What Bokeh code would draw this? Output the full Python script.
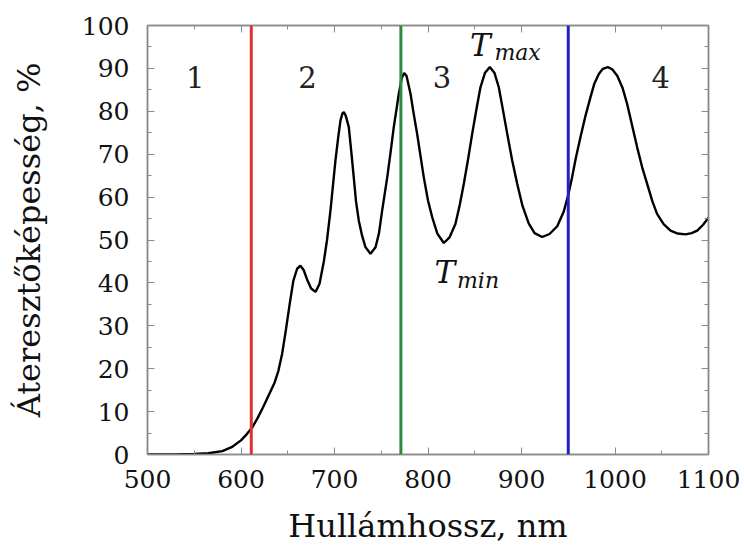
from bokeh.plotting import figure
from bokeh.models import Range1d, Span, LinearAxis, SingleIntervalTicker
from bokeh.core.properties import value
from bokeh.embed import file_html
from bokeh.resources import INLINE

# Transmission spectrum
wavelength = [500, 530, 550, 565, 580, 590, 600, 606, 612, 618, 624, 630, 636, 640, 644,
              648, 652, 656, 660, 663.6, 667, 671, 675, 679.7, 684, 688.6, 692, 695.7, 701,
              704, 706.4, 708.5, 710, 712, 715.3, 718, 720.6, 723, 726, 729.5, 733.2, 738.5,
              743.9, 747.5, 751, 756.4, 760, 763.4, 768.8, 772, 774.5, 777, 781.3, 784.5,
              788.4, 795.5, 800, 804.5, 810, 816.9, 823, 829.4, 834, 838.3, 843, 847.3, 852,
              856.1, 861, 866.1, 871, 875.7, 880, 884.7, 890, 895.4, 901, 907.8, 914, 922.1,
              930, 938.2, 945, 950, 954, 958, 963.1, 968.5, 973.8, 978, 982.7, 987, 992.3,
              997, 1002.4, 1008, 1013, 1018, 1023.7, 1029, 1034.4, 1040, 1045, 1052, 1059.4,
              1067, 1075.4, 1082, 1087.9, 1094, 1100]
transmission = [0, 0, 0.1, 0.3, 0.8, 1.7, 3.3, 4.7, 6.3, 8.6, 11.2, 14, 16.8, 19.5, 23.5,
                29, 35, 40.5, 43.3, 44, 43, 40.6, 38.7, 37.9, 39.8, 45, 50, 56.9, 68.5,
                74, 77.9, 79.5, 79.8, 79, 76.3, 70.5, 64.6, 59, 54.5, 51, 48.3, 46.8,
                48.3, 51.5, 56.9, 64.6, 70.5, 76.3, 84.1, 87.8, 88.9, 88.3, 84.1, 79.7,
                74.7, 64.6, 59.2, 55.3, 51.5, 49.3, 50.6, 53.8, 58.2, 63.1, 69, 74.8, 80.7,
                85.6, 89, 90.3, 89, 85.6, 80.5, 74.8, 68.6, 63.1, 58, 53.8, 51.6, 50.7,
                51.4, 53.2, 56.5, 60.5, 64.5, 69, 74, 79, 83.3, 86.5, 88.7, 89.9, 90.3,
                89.8, 88.3, 85.5, 81.7, 77, 71.6, 67, 63.1, 59, 56.1, 53.7, 52.2,
                51.5, 51.3, 51.6, 52.2, 53.5, 55.2]

# Region boundaries (nm) and colours
boundaries = [611, 771, 950]
boundary_colors = ["#e2302c", "#2f8a45", "#2222c4"]

# Region numbers
region_labels = ["1", "2", "3", "4"]
region_x = [551, 671, 815, 1049]
region_y = [88, 88, 88, 88]

# T_max / T_min annotations
t_main = ["T", "T"]
t_sub = ["max", "min"]
t_x = [845, 807]
t_y = [95.4, 42.6]
t_sub_x = [871, 831]
t_sub_y = [93.6, 40.6]

FONT = "DejaVu Serif"
GRAY = "#8a8a8a"

p = figure(width=744, height=548, output_backend="svg", toolbar_location=None,
           x_range=Range1d(500, 1100), y_range=Range1d(0, 100),
           min_border_left=147, min_border_right=36, min_border_top=25, min_border_bottom=94)
p.grid.visible = False
p.outline_line_color = GRAY
p.outline_line_width = 1.5
p.background_fill_color = "white"
p.border_fill_color = "white"

p.xaxis.ticker = SingleIntervalTicker(interval=100, num_minor_ticks=2)
p.yaxis.ticker = SingleIntervalTicker(interval=10, num_minor_ticks=2)

for ax in [p.xaxis[0], p.yaxis[0]]:
    ax.axis_line_color = GRAY
    ax.axis_line_width = 1.5
    ax.major_tick_in = 7
    ax.major_tick_out = 0
    ax.minor_tick_in = 4
    ax.minor_tick_out = 0
    ax.major_tick_line_color = GRAY
    ax.minor_tick_line_color = GRAY
    ax.major_label_text_font = FONT
    ax.major_label_text_font_size = "25px"
    ax.major_label_text_color = "#111111"
    ax.axis_label_text_font = FONT
    ax.axis_label_text_font_size = "32px"
    ax.axis_label_text_font_style = "normal"
    ax.axis_label_text_color = "#111111"

p.xaxis.axis_label = "Hullámhossz, nm"
p.yaxis.axis_label = "Áteresztőképesség, %"
p.xaxis.major_label_standoff = 15
p.yaxis.major_label_standoff = 18
p.xaxis.axis_label_standoff = 16
p.yaxis.axis_label_standoff = 31

# mirrored ticks on top and right
top = LinearAxis(ticker=SingleIntervalTicker(interval=100, num_minor_ticks=2))
right = LinearAxis(ticker=SingleIntervalTicker(interval=10, num_minor_ticks=2))
for ax in [top, right]:
    ax.axis_line_color = GRAY
    ax.axis_line_width = 1.5
    ax.major_tick_in = 7
    ax.major_tick_out = 0
    ax.minor_tick_in = 4
    ax.minor_tick_out = 0
    ax.major_tick_line_color = GRAY
    ax.minor_tick_line_color = GRAY
    ax.major_label_text_color = None
    ax.major_label_standoff = 0
p.add_layout(top, "above")
p.add_layout(right, "right")

for loc, col in zip(boundaries, boundary_colors):
    p.add_layout(Span(location=loc, dimension="height", line_color=col, line_width=3))

p.line(wavelength, transmission, line_color="black", line_width=2.4)

p.text(x=region_x, y=region_y, text=region_labels, text_font=value(FONT),
       text_font_size="29px", text_color="#222222", text_align="center", text_baseline="middle")

p.text(x=t_x, y=t_y, text=t_main, text_font=value(FONT), text_font_style="italic",
       text_font_size="31px", text_color="#111111", text_align="left", text_baseline="middle")
p.text(x=t_sub_x, y=t_sub_y, text=t_sub, text_font=value(FONT), text_font_style="italic",
       text_font_size="22px", text_color="#111111", text_align="left", text_baseline="middle")

open("out.html", "w").write(file_html(p, INLINE))
